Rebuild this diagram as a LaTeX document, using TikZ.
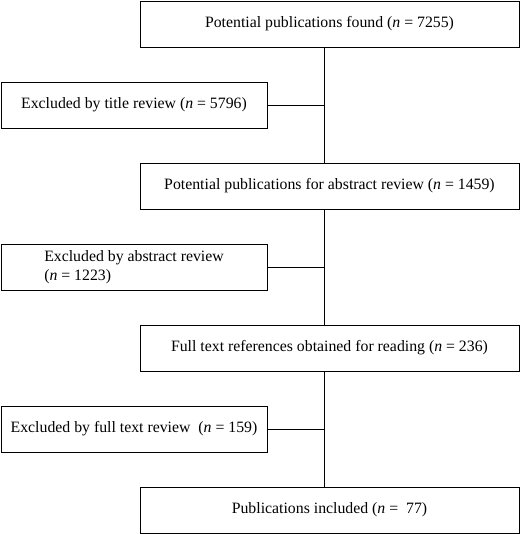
\documentclass[tikz,border=0pt]{standalone}
\usepackage{fontspec}
\setmainfont{Liberation Serif}
\usetikzlibrary{positioning,calc}

\begin{document}
\begin{tikzpicture}[
    x=1pt, y=-1pt,
    mainbox/.style={rectangle, draw=black, line width=0.9pt, minimum width=379pt, minimum height=46pt, inner sep=2pt, font=\fontsize{15.8}{18.5}\selectfont},
    exclbox/.style={rectangle, draw=black, line width=0.9pt, minimum width=266pt, minimum height=46pt, inner sep=2pt, font=\fontsize{15.8}{18.5}\selectfont},
    link/.style={line width=0.9pt, black}
]
\useasboundingbox (0,0) rectangle (520,534);

% --- MAIN FLOW ---
\node[mainbox] (Found) at (329.5, 24) {Potential publications found (\textit{n} = 7255)};
\node[mainbox] (Abstract) at (329.5, 186) {Potential publications for abstract review (\textit{n} = 1459)};
\node[mainbox] (FullText) at (329.5, 348) {Full text references obtained for reading (\textit{n} = 236)};
\node[mainbox] (Included) at (329.5, 510) {Publications included (\textit{n} = \ 77)};

% --- EXCLUSIONS ---
\node[exclbox] (ExTitle) at (134, 105) {Excluded by title review (\textit{n} = 5796)};
\node[exclbox, align=left] (ExAbstract) at (134, 267) {Excluded by abstract review\\(\textit{n} = 1223)};
\node[exclbox] (ExFull) at (134, 429) {Excluded by full text review \ (\textit{n} = 159)};

% Spine
\coordinate (spine) at (324, 0);
\draw[link] (Found.south -| spine) -- (Abstract.north -| spine);
\draw[link] (Abstract.south -| spine) -- (FullText.north -| spine);
\draw[link] (FullText.south -| spine) -- (Included.north -| spine);

% Branches
\draw[link] (ExTitle.east) -- (ExTitle.east -| spine);
\draw[link] (ExAbstract.east) -- (ExAbstract.east -| spine);
\draw[link] (ExFull.east) -- (ExFull.east -| spine);

\end{tikzpicture}
\end{document}
